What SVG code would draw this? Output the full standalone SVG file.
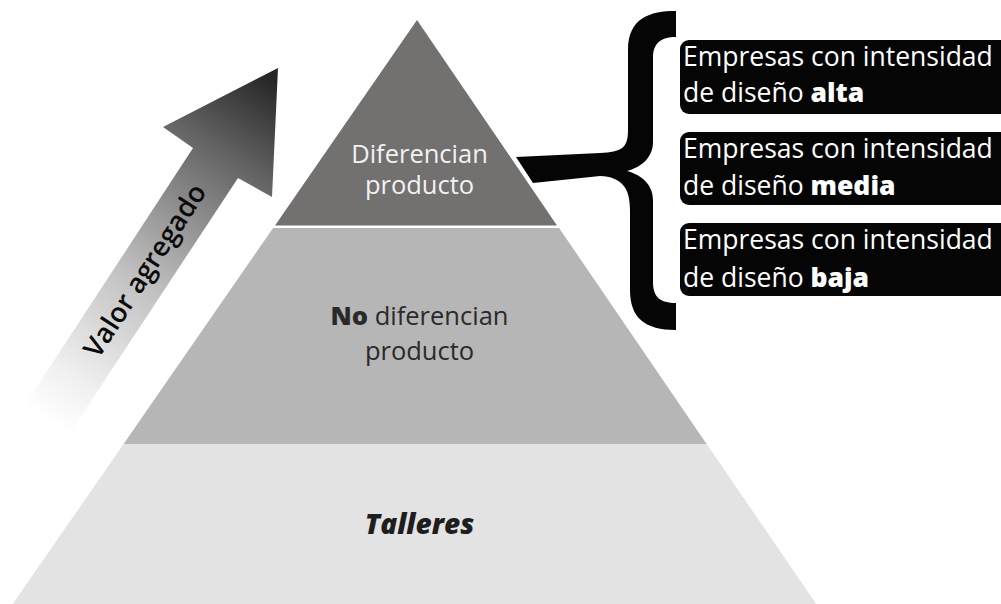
<svg xmlns="http://www.w3.org/2000/svg" width="1001" height="604" viewBox="0 0 1001 604">
  <defs>
    <linearGradient id="arrowGrad" gradientUnits="userSpaceOnUse" x1="47" y1="419" x2="272" y2="78">
      <stop offset="0" stop-color="#ffffff"/>
      <stop offset="0.12" stop-color="#f0f0f0"/>
      <stop offset="0.4" stop-color="#c2c2c2"/>
      <stop offset="0.62" stop-color="#8c8c8c"/>
      <stop offset="0.8" stop-color="#5e5e5e"/>
      <stop offset="1" stop-color="#262626"/>
    </linearGradient>
    <style>
      .t { font-family: "Open Sans", "Noto Sans", sans-serif; }
      .box { fill: #050505; }
      .boxtxt { font-family: "Open Sans", "Noto Sans", sans-serif; font-size: 26.5px; fill: #ffffff; }
      .b { font-weight: 800; }
      .ptxt { font-family: "Open Sans", "Noto Sans", sans-serif; font-size: 25.5px; text-anchor: middle; }
      .big { font-size: 28px; font-weight: 800; font-style: italic; }
    </style>
  </defs>
  <rect x="0" y="0" width="1001" height="604" fill="#ffffff"/>

  <g id="arrow">
    <polygon points="278,68 163,127 193,148 25,405 70,433 238,178 272,197" fill="url(#arrowGrad)"/>
    <text class="t" transform="translate(144,270) rotate(-57)" text-anchor="middle" dominant-baseline="central" font-size="27.5" font-weight="600" fill="#0a0a0a">Valor agregado</text>
  </g>

  <g id="layer-bottom">
    <polygon points="123.6,444 706.6,444 817,605 12,605" fill="#e3e3e3"/>
    <text class="ptxt big" x="419.5" y="534" fill="#1e1e1e">Talleres</text>
  </g>

  <g id="layer-middle">
    <polygon points="273.1,228 559.1,228 706.6,444 123.6,444" fill="#b6b6b6"/>
    <text class="ptxt" x="419.5" y="325" fill="#2a2a2a"><tspan class="b">No</tspan> diferencian</text>
    <text class="ptxt" x="419.5" y="360" fill="#2a2a2a">producto</text>
  </g>

  <g id="layer-top">
    <polygon points="417,20 557,225.5 275,225.5" fill="#737070"/>
    <text class="ptxt" x="419.5" y="163" fill="#f2f2f2">Diferencian</text>
    <text class="ptxt" x="419.5" y="194" fill="#f2f2f2">producto</text>
  </g>

  <g id="connectors">
    <path d="M676,11 C650,11 628,18 628,50 L628,130 C628,148 622,152 600,153 L516,157 L533,183 L600,176 C622,177 630,188 630,210 L630,290 C630,318 645,330 676,330 L676,303 C660,303 653,297 653,282 L653,200 C653,185 642,175 627,171 C642,167 653,157 653,142 L653,58 C653,44 660,37 676,37 Z" fill="#050505"/>
  </g>

  <g id="box-alta">
    <rect class="box" x="680" y="40" width="340" height="74" rx="9"/>
    <text class="boxtxt" x="683" y="66">Empresas con intensidad</text>
    <text class="boxtxt" x="683" y="102">de diseño <tspan class="b">alta</tspan></text>
  </g>

  <g id="box-media">
    <rect class="box" x="680" y="132" width="340" height="73" rx="9"/>
    <text class="boxtxt" x="683" y="158">Empresas con intensidad</text>
    <text class="boxtxt" x="683" y="195">de diseño <tspan class="b">media</tspan></text>
  </g>

  <g id="box-baja">
    <rect class="box" x="680" y="223" width="340" height="73" rx="9"/>
    <text class="boxtxt" x="683" y="249">Empresas con intensidad</text>
    <text class="boxtxt" x="683" y="287">de diseño <tspan class="b">baja</tspan></text>
  </g>
</svg>
